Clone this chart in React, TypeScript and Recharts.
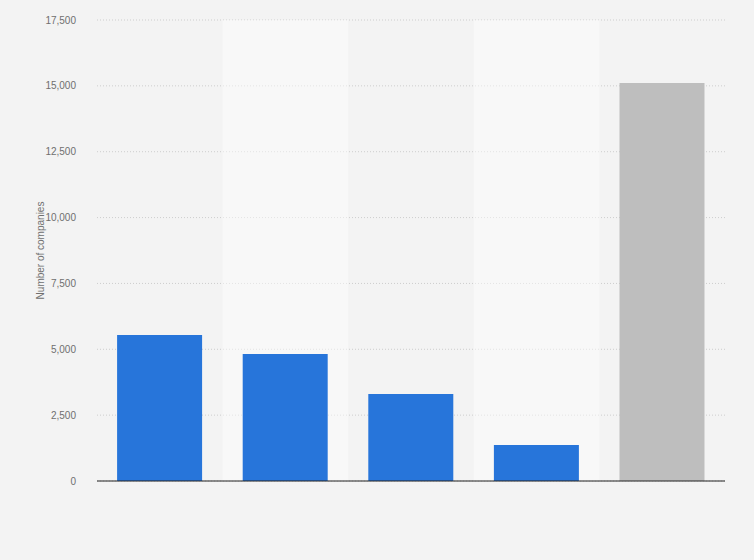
import { BarChart, Bar, Cell, XAxis, YAxis, CartesianGrid, ReferenceArea, Label } from 'recharts';

const categories = ['Group 1', 'Group 2', 'Group 3', 'Group 4', 'Group 5'];
const companies = [5540, 4820, 3300, 1370, 15110];
const barColors = ['#2775da', '#2775da', '#2775da', '#2775da', '#bebebe'];
const yTicks = [0, 2500, 5000, 7500, 10000, 12500, 15000, 17500];
const shadedCategories = ['Group 2', 'Group 4'];

const data = categories.map((name, i) => ({ name, value: companies[i] }));

const font = 'Arial, "Liberation Sans", sans-serif';

export default function App() {
  return (
    <div style={{ position: 'fixed', top: 0, left: 0, width: 754, height: 560, background: '#f3f3f3', fontFamily: font }}>
      <BarChart width={754} height={560} data={data} margin={{ top: 20, right: 29, bottom: 49, left: 0 }} barCategoryGap="16%">
        <CartesianGrid vertical={false} stroke="#cdcdcd" strokeDasharray="1 2" />
        {shadedCategories.map((c) => (
          <ReferenceArea key={c} x1={c} x2={c} fill="#ffffff" fillOpacity={0.45} stroke="none" />
        ))}
        <XAxis
          dataKey="name"
          tick={false}
          tickLine={false}
          stroke="#222222"
          axisLine={{ stroke: '#222222', strokeWidth: 1.2 }}
          height={30}
        />
        <YAxis
          width={97}
          domain={[0, 17500]}
          ticks={yTicks}
          tickFormatter={(v: number) => v.toLocaleString('en-US')}
          tick={{ fontSize: 10, fill: '#6f6f6f', fontFamily: font }}
          tickLine={false}
          axisLine={false}
          tickMargin={15}
        >
          <Label
            content={({ viewBox }: any) => {
              const cy = viewBox.y + viewBox.height / 2;
              return (
                <text x={44} y={cy} transform={`rotate(-90, 44, ${cy})`} textAnchor="middle" fontSize={10} fill="#6f6f6f" fontFamily={font}>
                  Number of companies
                </text>
              );
            }}
          />
        </YAxis>
        <Bar dataKey="value" isAnimationActive={false}>
          {data.map((d, i) => (
            <Cell key={d.name} fill={barColors[i]} />
          ))}
        </Bar>
      </BarChart>
    </div>
  );
}
